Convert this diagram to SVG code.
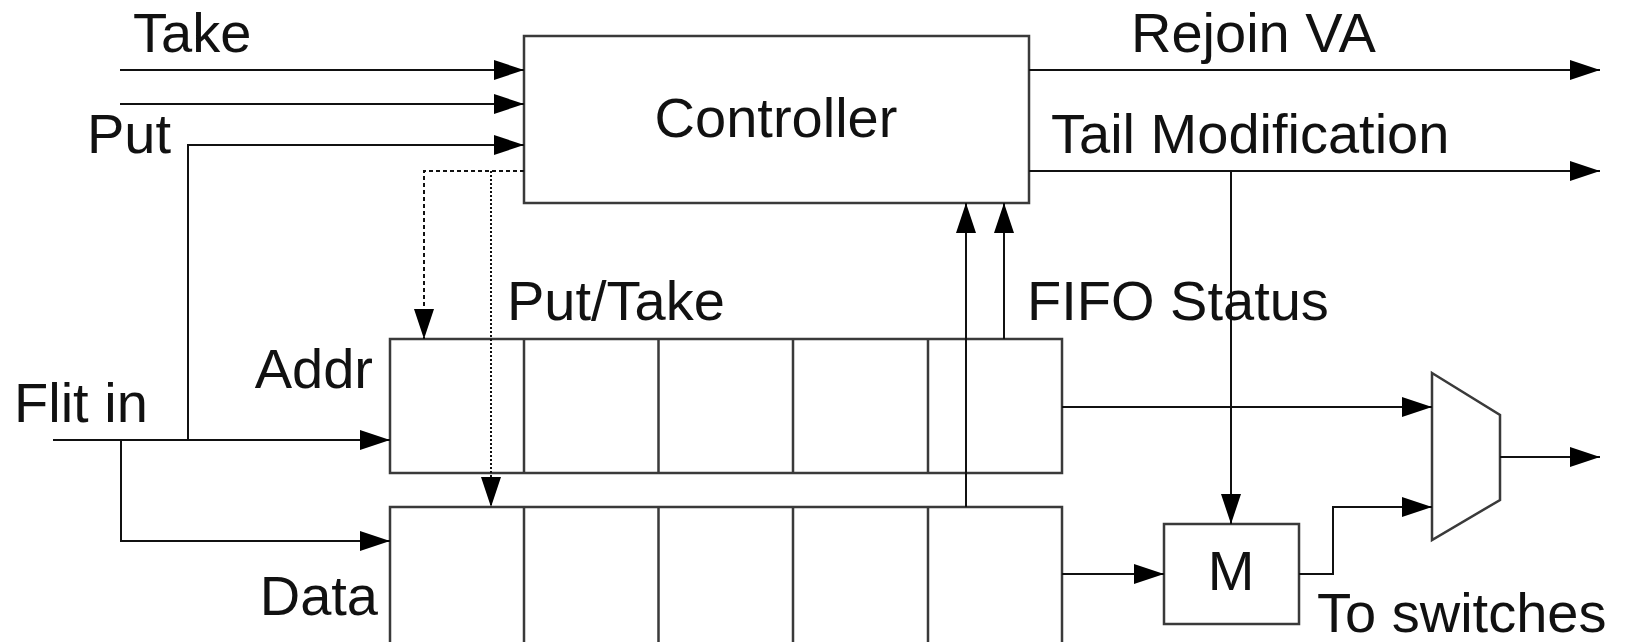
<svg xmlns="http://www.w3.org/2000/svg" width="1626" height="642" viewBox="0 0 1626 642">
<style>
.box{fill:#fff;stroke:#3a3a3a;stroke-width:2.5}
.ln{fill:none;stroke:#111;stroke-width:2}
.dash1{stroke-dasharray:4,3}
.dash2{stroke-dasharray:2,2}
.t{font-family:"Liberation Sans",Arial,sans-serif;font-size:56px;fill:#111}
</style>
<defs>
<marker id="ah" markerUnits="userSpaceOnUse" markerWidth="30" markerHeight="20" refX="30" refY="10" orient="auto" viewBox="0 0 30 20">
<path d="M0,0 L30,10 L0,20 z" fill="#000"/>
</marker>
</defs>
<g id="controller">
<rect class="box" x="524" y="36" width="505" height="167"/>
<text class="t" x="776" y="137" text-anchor="middle">Controller</text>
</g>
<g id="addr-fifo">
<rect class="box" x="390" y="339" width="672" height="134"/>
<path class="box" d="M524,339V473M658.5,339V473M793,339V473M928,339V473"/>
<text class="t" x="373" y="388" text-anchor="end">Addr</text>
</g>
<g id="data-fifo">
<rect class="box" x="390" y="507" width="672" height="150"/>
<path class="box" d="M524,507V642M658.5,507V642M793,507V642M928,507V642"/>
<text class="t" x="378" y="615" text-anchor="end">Data</text>
</g>
<g id="m-block">
<rect class="box" x="1164" y="524" width="135" height="100"/>
<text class="t" x="1231" y="590" text-anchor="middle">M</text>
</g>
<g id="mux">
<path class="box" d="M1432,373 L1500,415 L1500,500 L1432,540 z"/>
</g>
<g id="connectors">
<path class="ln" d="M120,70H524" marker-end="url(#ah)"/>
<path class="ln" d="M120,104H524" marker-end="url(#ah)"/>
<path class="ln" d="M188,440V145H524" marker-end="url(#ah)"/>
<path class="ln" d="M53,440H390" marker-end="url(#ah)"/>
<path class="ln" d="M121,440V541H390" marker-end="url(#ah)"/>
<path class="ln dash1" d="M524,171H424V339" marker-end="url(#ah)"/>
<path class="ln dash2" d="M491,171V507" marker-end="url(#ah)"/>
<path class="ln" d="M966,507V203" marker-end="url(#ah)"/>
<path class="ln" d="M1004,339V203" marker-end="url(#ah)"/>
<path class="ln" d="M1029,70H1600" marker-end="url(#ah)"/>
<path class="ln" d="M1029,171H1600" marker-end="url(#ah)"/>
<path class="ln" d="M1231,171V524" marker-end="url(#ah)"/>
<path class="ln" d="M1062,407H1432" marker-end="url(#ah)"/>
<path class="ln" d="M1062,574H1164" marker-end="url(#ah)"/>
<path class="ln" d="M1299,574H1333V507H1432" marker-end="url(#ah)"/>
<path class="ln" d="M1500,457H1600" marker-end="url(#ah)"/>
</g>
<g id="labels">
<text class="t" x="133" y="52">Take</text>
<text class="t" x="87" y="153">Put</text>
<text class="t" x="1131" y="52">Rejoin VA</text>
<text class="t" x="1051" y="153">Tail Modification</text>
<text class="t" x="507" y="320">Put/Take</text>
<text class="t" x="1027" y="320">FIFO Status</text>
<text class="t" x="14" y="422">Flit in</text>
<text class="t" x="1317" y="632">To switches</text>
</g>
</svg>
